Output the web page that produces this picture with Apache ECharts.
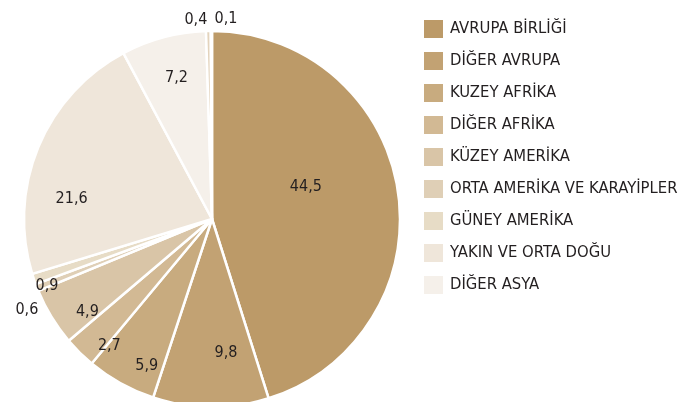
<!DOCTYPE html>
<html>
<head>
<meta charset="utf-8">
<script src="https://cdn.jsdelivr.net/npm/echarts@6/dist/echarts.min.js"></script>
<style>
  html, body { margin: 0; padding: 0; background: #fff; }
  #chart { width: 692px; height: 402px; }
</style>
</head>
<body>
<div id="chart"></div>
<script>
// regions (legend shows the first nine)
let regions = ["AVRUPA BİRLİĞİ", "DİĞER AVRUPA", "KUZEY AFRİKA", "DİĞER AFRİKA", "KÜZEY AMERİKA",
  "ORTA AMERİKA VE KARAYİPLER", "GÜNEY AMERİKA", "YAKIN VE ORTA DOĞU", "DİĞER ASYA",
  "AVUSTRALYA VE YENİ ZELANDA", "DİĞER ÜLKE VE BÖLGELER"]
let shares = [44.5, 9.8, 5.9, 2.7, 4.9, 0.6, 0.9, 21.6, 7.2, 0.4, 0.1]
let legendNames = regions.slice(0, 9)

let color = ["#bc9a68", "#c2a273", "#c8ab7f", "#d2b994", "#d9c5a7", "#dfcfb6", "#e7dcc6", "#efe6da", "#f5f0ea", "#e3d3bc", "#d9c4a6"]
let font = "'Liberation Sans Narrow', 'DejaVu Sans Condensed', sans-serif"
let center = [212, 219]
let radius = 188

function fmt(v) { return String(v).replace(".", ",") }

// label placement tweaks (pixel nudges from the library's own spot)
let bigInside = { 0: [-2, -17] }
let outside = { 5: [12, 20], 9: [4, -5], 10: [31, -6] }
let nudge = { 1: [15, -19], 2: [9, 13], 3: [5, 18], 4: [6, 13], 6: [-20, 18], 7: [1, 38], 8: [4, 7] }

let pieData = regions.map((n, i) => {
  let item = { name: n, value: shares[i], itemStyle: { color: color[i] } }
  item.label = bigInside[i] ? { offset: bigInside[i] } : { show: false }
  return item
})

let labelData = regions.map((n, i) => {
  let item = { name: n, value: shares[i] }
  item.label = nudge[i] ? { offset: nudge[i] } : { show: false }
  return item
})

let outerData = regions.map((n, i) => {
  let item = { name: n, value: shares[i] }
  item.label = outside[i] ? { offset: outside[i] } : { show: false }
  return item
})

let textStyle = { fontFamily: font, fontSize: 16, color: "#231f20" }

let option = {
  animation: false,
  legend: {
    orient: "vertical",
    left: 424,
    top: 20,
    padding: 0,
    itemWidth: 19,
    itemHeight: 18,
    itemGap: 14,
    icon: "rect",
    data: legendNames,
    itemStyle: { borderWidth: 0 },
    textStyle: { fontFamily: font, fontSize: 16.5, color: "#231f20", padding: [0, 0, 0, 2] },
    selectedMode: false
  },
  series: [
    {
      type: "pie",
      center: center,
      radius: [0, radius],
      startAngle: 90,
      data: pieData,
      itemStyle: { borderColor: "#fff", borderWidth: 2.5 },
      label: { show: true, position: "inside", ...textStyle, formatter: p => fmt(p.value) },
      labelLine: { show: false },
      emphasis: { disabled: true },
      silent: true
    },
    {
      type: "pie",
      center: center,
      radius: [112, radius],
      startAngle: 90,
      data: labelData,
      itemStyle: { color: "transparent" },
      label: { show: true, position: "inside", ...textStyle, formatter: p => fmt(p.value) },
      labelLine: { show: false },
      legendHoverLink: false,
      emphasis: { disabled: true },
      silent: true
    },
    {
      type: "pie",
      center: center,
      radius: [0, radius],
      startAngle: 90,
      data: outerData,
      avoidLabelOverlap: false,
      itemStyle: { color: "transparent" },
      label: { show: true, position: "outside", ...textStyle, formatter: p => fmt(p.value) },
      labelLine: { show: false, length: 6, length2: 0 },
      legendHoverLink: false,
      emphasis: { disabled: true },
      silent: true
    }
  ]
}

let chart = echarts.init(document.getElementById("chart"))
chart.setOption(option)
</script>
</body>
</html>
